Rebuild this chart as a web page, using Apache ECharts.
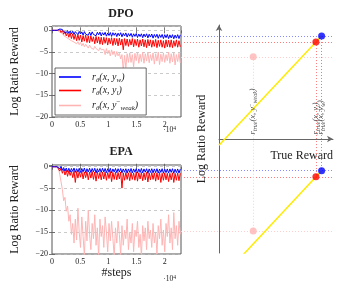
<!DOCTYPE html>
<html><head><meta charset="utf-8">
<script src="https://cdn.jsdelivr.net/npm/echarts@6/dist/echarts.min.js"></script>
<style>html,body{margin:0;padding:0;background:#fff}#c{width:341px;height:284px}</style>
</head><body><div id="c"></div>
<script>
// ---------- data ----------
const STEP = 230;            // sampling interval (training steps)
const X_MAX = 22900;         // right end of the step axis
const xTickLabels = [0, 0.5, 1, 1.5, 2];   // ×10^4
const yTickLabels = [0, -5, -10, -15, -20];

const dpoChosen = [0,0,0,0,0,0.05,0.3,0.5,0.2,-0.3,
0.05,-0.55,-0.05,-0.7,-0.15,-0.8,-0.2,-0.95,-0.3,-0.6,
-1.0,-0.25,-0.85,-0.35,-1.1,-0.3,-0.9,-0.45,-1.15,-0.4,
-1.2,-0.35,-0.95,-0.5,-1.25,-0.45,-1.05,-0.4,-1.3,-0.55,
-1.1,-0.45,-1.35,-0.6,-1.2,-0.5,-1.4,-0.55,-1.15,-0.6,
-1.45,-0.65,-1.25,-0.55,-1.5,-0.7,-1.3,-0.6,-1.55,-0.75,
-1.35,-0.7,-1.6,-0.8,-1.4,-0.75,-1.65,-0.85,-1.45,-0.8,
-1.7,-0.85,-1.5,-0.8,-1.75,-0.9,-1.55,-0.85,-1.8,-0.95,
-1.6,-0.9,-1.85,-1.0,-1.65,-0.95,-1.9,-1.0,-1.7,-0.95,
-1.9,-1.05,-1.75,-1.0,-1.95,-1.1,-1.8,-1.0,-1.9,-1.05];

const dpoRejected = [0,0,0,0,0,-0.1,0.15,-0.5,0.0,-0.9,
-0.3,-1.3,-0.5,-1.6,-0.6,-1.9,-0.8,-2.1,-0.9,-2.4,
-1.0,-2.3,-1.1,-2.7,-1.2,-2.5,-1.1,-2.8,-1.3,-2.9,
-1.3,-2.6,-1.5,-3.1,-1.4,-2.9,-1.5,-3.2,-1.6,-3.3,
-1.6,-3.0,-1.7,-3.4,-1.8,-3.1,-1.7,-3.5,-1.8,-3.3,
-1.9,-3.6,-1.8,-3.4,-2.0,-4.5,-1.9,-3.5,-2.0,-3.7,
-2.1,-3.4,-1.9,-3.8,-2.1,-3.5,-2.0,-3.9,-2.2,-3.6,
-2.0,-3.8,-2.2,-4.0,-2.1,-3.6,-2.2,-3.9,-2.3,-3.7,
-2.1,-4.0,-2.3,-3.7,-2.2,-3.9,-2.4,-4.1,-2.2,-3.8,
-2.3,-3.9,-2.2,-4.0,-2.4,-3.7,-2.2,-3.9,-2.4,-3.8];

const dpoWeak = [0,0,0,0,0,-0.2,-0.4,-0.8,-0.7,-1.2,
-1.1,-1.6,-1.4,-2.0,-1.8,-2.4,-2.1,-2.7,-2.3,-3.1,
-2.6,-3.3,-2.8,-3.6,-3.0,-3.8,-3.2,-3.5,-4.1,-3.4,
-4.0,-3.6,-4.4,-3.7,-4.2,-3.9,-4.7,-4.0,-4.5,-4.1,
-4.4,-5.6,-4.2,-5.4,-4.6,-5.9,-4.5,-5.6,-4.8,-6.1,
-4.9,-5.9,-5.3,-6.6,-5.6,-9.3,-5.8,-8.6,-5.4,-7.4,
-5.2,-7.4,-5.6,-8.4,-5.3,-7.0,-5.0,-7.6,-5.5,-7.2,
-5.1,-7.6,-5.4,-7.1,-5.0,-7.5,-5.6,-7.0,-5.2,-7.8,
-5.4,-7.1,-5.0,-7.9,-5.5,-7.2,-5.2,-7.4,-5.6,-7.0,
-5.0,-7.6,-5.4,-7.3,-5.1,-8.0,-5.6,-7.2,-5.3,-7.5];

const epaChosen = [0,0,0,0,0,-0.1,-0.45,0.1,-0.8,-0.2,
-1.0,-0.3,-1.1,-0.35,-1.2,-0.4,-1.05,-0.3,-1.3,-0.45,
-1.2,-0.35,-1.3,-0.4,-1.15,-0.3,-1.35,-0.45,-1.2,-0.35,
-1.3,-0.4,-1.15,-0.35,-1.4,-0.45,-1.2,-0.4,-1.3,-0.35,
-1.2,-0.4,-1.35,-0.45,-1.25,-0.35,-1.4,-0.5,-1.2,-0.4,
-1.35,-0.45,-1.2,-0.4,-1.4,-0.5,-1.25,-0.45,-1.45,-0.5,
-1.3,-0.4,-1.4,-0.5,-1.25,-0.45,-1.45,-0.5,-1.3,-0.4,
-1.4,-0.5,-1.25,-0.45,-1.5,-0.5,-1.3,-0.45,-1.4,-0.5,
-1.35,-0.45,-1.45,-0.55,-1.3,-0.45,-1.5,-0.55,-1.35,-0.5,
-1.45,-0.5,-1.3,-0.45,-1.5,-0.55,-1.35,-0.5,-1.45,-0.55];

const epaRejected = [0,0,0,0,0,-0.3,-1.0,-0.3,-1.5,-0.6,
-1.9,-0.8,-2.2,-0.9,-2.0,-1.0,-2.5,-1.0,-3.6,-1.1,
-2.6,-1.1,-2.4,-1.0,-2.8,-1.2,-2.5,-1.1,-3.0,-1.2,
-2.6,-1.1,-2.9,-1.2,-3.3,-1.1,-2.7,-1.3,-3.0,-1.2,
-2.8,-1.2,-3.1,-1.3,-2.7,-1.1,-3.4,-1.3,-2.9,-1.2,
-3.0,-1.3,-2.8,-1.2,-4.9,-1.4,-3.1,-1.3,-2.9,-1.4,
-3.2,-1.3,-2.9,-1.4,-3.1,-1.2,-3.3,-1.4,-2.8,-1.3,
-3.2,-1.4,-3.0,-1.3,-3.5,-1.4,-3.0,-1.3,-2.9,-1.4,
-3.3,-1.4,-3.0,-1.3,-3.6,-1.5,-3.1,-1.4,-3.0,-1.5,
-3.4,-1.5,-3.0,-1.4,-3.6,-1.5,-3.1,-1.4,-3.2,-1.5];

const epaWeak = [0,0,0,0,0,-0.5,-1.8,-3.5,-5.2,-7.8,
-7.0,-10.2,-9.0,-12.5,-11.0,-15.5,-13.0,-17.5,-12.0,-16.8,
-9.5,-15.0,-18.5,-11.5,-16.0,-20.5,-12.5,-17.0,-10.0,-15.5,
-19.0,-13.0,-16.5,-11.0,-18.0,-14.0,-20.8,-12.0,-16.0,-13.5,
-18.5,-11.5,-15.0,-19.5,-13.0,-17.0,-12.5,-16.5,-20.5,-14.0,
-17.5,-12.5,-15.5,-20.3,-13.5,-18.0,-14.5,-16.5,-12.0,-19.0,
-15.0,-17.5,-13.0,-19.5,-14.5,-16.0,-12.5,-18.5,-15.5,-20.5,
-13.5,-17.0,-14.0,-19.0,-12.5,-16.5,-14.5,-18.5,-13.0,-17.5,
-15.0,-20.0,-13.5,-16.5,-12.0,-18.0,-14.5,-19.5,-13.0,-16.0,
-11.0,-17.5,-14.0,-19.0,-10.5,-16.5,-13.5,-18.0,-12.5,-15.5];

// converged levels (chosen, rejected, weak) and conceptual true rewards
const dpoEnd = [-1.3, -2.7, -6.1];
const epaEnd = [-0.9, -2.3, -14.7];
const trueReward = [0.9, 0.85, 0.3];

const COLORS = ['#0000ff', '#ff0000', '#ffb4b4'];
const DOT_LINE = ['#8a8aff', '#ff7a7a', '#ffcfcf'];
const FONT = 'Liberation Serif';
const TXT = '#222';

// ---------- helpers ----------
const steps = dpoChosen.map((_, i) => i * STEP);
const pairs = arr => arr.map((v, i) => [steps[i], v]);
const minus = s => String(s).replace('-', '\u2212');

const rich = (m, s) => ({
  m: { fontFamily: FONT, fontStyle: 'italic', fontSize: m, color: TXT, lineHeight: m + 3, verticalAlign: 'middle' },
  s: { fontFamily: FONT, fontStyle: 'italic', fontSize: s, color: TXT, lineHeight: m + 3, verticalAlign: 'bottom' },
  sup: { fontFamily: FONT, fontSize: s, color: TXT, lineHeight: m + 3, verticalAlign: 'top' }
});
const legendText = {
  chosen: '{m|r}{s|\u03b8}{m|(x, y}{s|w}{m|)}',
  rejected: '{m|r}{s|\u03b8}{m|(x, y}{s|l}{m|)}',
  weak: '{m|r}{s|\u03b8}{m|(x, y}{sup|\u2212}{s|weak}{m|)}'
};
const diagText = [
  '{m|r}{s|true}{m|(x, y}{s|w}{m|)}',
  '{m|r}{s|true}{m|(x, y}{s|l}{m|)}',
  '{m|r}{s|true}{m|(x, y}{sup|\u2212}{s|weak}{m|)}'
];

const tickStyle = { inside: true, length: 3, lineStyle: { color: '#555', width: 0.8 } };
const lblStyle = { fontFamily: FONT, fontSize: 8, color: TXT };

function stepAxis(grid) {
  return {
    type: 'value', gridIndex: grid, min: 0, max: X_MAX, interval: 5000,
    axisLine: { show: false }, axisTick: tickStyle, splitLine: { show: false },
    axisLabel: Object.assign({ margin: 4, showMaxLabel: false,
      formatter: v => xTickLabels.includes(v / 1e4) ? String(v / 1e4) : '' }, lblStyle)
  };
}
function mirrorX(grid) {
  return { type: 'value', gridIndex: grid, position: 'top', min: 0, max: X_MAX, interval: 5000,
    axisLine: { show: false }, axisTick: tickStyle, axisLabel: { show: false }, splitLine: { show: false } };
}
function ratioAxis(grid, max) {
  return {
    type: 'value', gridIndex: grid, min: -20, max: max, interval: 5,
    axisLine: { show: false }, axisTick: tickStyle,
    axisLabel: Object.assign({ margin: 4, showMaxLabel: false,
      formatter: v => yTickLabels.includes(v) ? minus(v) : '' }, lblStyle),
    splitLine: { show: true, lineStyle: { color: '#bdbdbd', type: [3, 3], width: 0.8 } },
    name: 'Log Ratio Reward', nameLocation: 'middle', nameGap: 31,
    nameTextStyle: { fontFamily: FONT, fontSize: 12, color: TXT }
  };
}
function mirrorY(grid, max) {
  return { type: 'value', gridIndex: grid, position: 'right', min: -20, max: max, interval: 5,
    axisLine: { show: false }, axisTick: tickStyle, axisLabel: { show: false }, splitLine: { show: false } };
}
function curve(name, data, color, xi, yi) {
  return { type: 'line', name, data: pairs(data), xAxisIndex: xi, yAxisIndex: yi,
    symbol: 'none', showSymbol: false, color, lineStyle: { color, width: 1 }, clip: true, silent: true };
}

const gridBox = { show: true, borderColor: '#555', borderWidth: 1, backgroundColor: 'transparent' };
const diagAxisLine = { show: true, onZero: true, symbol: ['none', 'arrow'], symbolSize: [5, 6],
  lineStyle: { color: '#666', width: 1 } };

const option = {
  animation: false,
  title: [
    { text: 'DPO', left: 116, top: 3, textAlign: 'center',
      textStyle: { fontFamily: FONT, fontSize: 12, fontWeight: 'bold', color: TXT } },
    { text: 'EPA', left: 116, top: 141, textAlign: 'center',
      textStyle: { fontFamily: FONT, fontSize: 12, fontWeight: 'bold', color: TXT } }
  ],
  grid: [
    Object.assign({ left: 52, top: 26, width: 129, height: 91 }, gridBox),
    Object.assign({ left: 52, top: 165, width: 129, height: 89 }, gridBox),
    { left: 219, top: 25, width: 114, height: 228, show: false }
  ],
  legend: {
    data: ['chosen', 'rejected', 'weak'], orient: 'vertical', left: 55, top: 68,
    icon: 'rect', itemWidth: 22, itemHeight: 1.6, itemGap: 2, padding: [4, 8, 3, 4],
    borderColor: '#444', borderWidth: 0.8, borderRadius: 0, backgroundColor: '#fff',
    formatter: n => legendText[n],
    textStyle: { padding: [0, 0, 0, 6], rich: rich(10, 7) }
  },
  xAxis: [
    stepAxis(0),
    stepAxis(1),
    { type: 'value', gridIndex: 2, min: 0, max: 1, axisLine: diagAxisLine,
      axisTick: { show: false }, axisLabel: { show: false }, splitLine: { show: false },
      name: 'True Reward', nameLocation: 'end', nameGap: 0,
      nameTextStyle: { align: 'right', verticalAlign: 'top', padding: [11, 0, 0, 0],
        fontFamily: FONT, fontSize: 12, color: TXT } },
    mirrorX(0), mirrorX(1),
    // invisible helper axis carrying the "#steps" label
    { type: 'value', gridIndex: 1, min: 0, max: X_MAX, position: 'bottom', offset: 0,
      axisLine: { show: false }, axisTick: { show: false }, axisLabel: { show: false }, splitLine: { show: false },
      name: '#steps', nameLocation: 'middle', nameGap: 13,
      nameTextStyle: { fontFamily: FONT, fontSize: 12, color: TXT } }
  ],
  yAxis: [
    ratioAxis(0, 1), ratioAxis(1, 0.4),
    { type: 'value', gridIndex: 2, min: -114, max: 114, axisLine: diagAxisLine,
      axisTick: { show: false }, axisLabel: { show: false }, splitLine: { show: false },
      name: 'Log Ratio Reward', nameLocation: 'middle', nameGap: 11,
      nameTextStyle: { fontFamily: FONT, fontSize: 12, color: TXT } },
    mirrorY(0, 1), mirrorY(1, 0.4)
  ],
  series: [
    curve('weak', dpoWeak, COLORS[2], 0, 0),
    curve('rejected', dpoRejected, COLORS[1], 0, 0),
    curve('chosen', dpoChosen, COLORS[0], 0, 0),
    curve('epa-weak', epaWeak, COLORS[2], 1, 1),
    curve('epa-rejected', epaRejected, COLORS[1], 1, 1),
    curve('epa-chosen', epaChosen, COLORS[0], 1, 1)
  ]
};

const chart = echarts.init(document.getElementById('c'), null, { renderer: 'canvas' });
chart.setOption(option);

// ---------- right-hand diagram, positioned from the plotted scales ----------
const toDiagY = (v, yi) => chart.convertFromPixel({ yAxisIndex: 2 }, chart.convertToPixel({ yAxisIndex: yi }, v));
const upY = dpoEnd.map(v => toDiagY(v, 0));
const loY = epaEnd.map(v => toDiagY(v, 1));
const plotRightPx = chart.convertToPixel({ xAxisIndex: 0 }, X_MAX);
const leftX = chart.convertFromPixel({ xAxisIndex: 2 }, plotRightPx);
const rightX = 1;

const dotted = [];
[upY, loY].forEach(ys => ys.forEach((y, i) => {
  dotted.push({ coords: [[leftX, y], [rightX, y]], lineStyle: { color: DOT_LINE[i] } });
}));
trueReward.forEach((x, i) => {
  dotted.push({ coords: [[x, upY[i]], [x, loY[i]]], lineStyle: { color: DOT_LINE[i] } });
});

function fitLine(ys) {
  const k = (ys[0] - ys[1]) / (trueReward[0] - trueReward[1]);
  return [[0, ys[0] - k * trueReward[0]], [trueReward[0], ys[0]]];
}

option.series.push(
  { type: 'lines', coordinateSystem: 'cartesian2d', xAxisIndex: 2, yAxisIndex: 2, clip: false,
    silent: true, lineStyle: { type: [1, 2], width: 1, opacity: 1 }, data: dotted, z: 3 },
  { type: 'line', xAxisIndex: 2, yAxisIndex: 2, data: fitLine(upY), symbol: 'none', clip: true,
    lineStyle: { color: '#ffeb00', width: 1.5 }, silent: true, z: 4 },
  { type: 'line', xAxisIndex: 2, yAxisIndex: 2, data: fitLine(loY), symbol: 'none', clip: true,
    lineStyle: { color: '#ffeb00', width: 1.5 }, silent: true, z: 4 },
  { type: 'scatter', xAxisIndex: 2, yAxisIndex: 2, symbolSize: 7, silent: true, z: 6,
    data: trueReward.flatMap((x, i) => [
      { value: [x, upY[i]], itemStyle: { color: COLORS[i] } },
      { value: [x, loY[i]], itemStyle: { color: COLORS[i] } }
    ]) },
  { type: 'scatter', xAxisIndex: 2, yAxisIndex: 2, symbolSize: 1, silent: true, z: 7,
    itemStyle: { color: 'transparent' },
    label: { show: true, position: [0, 0], rotate: 90, align: 'left', verticalAlign: 'middle',
      padding: [0, 0, 0, 4], rich: rich(8.5, 6) },
    data: trueReward.map((x, i) => ({ value: [x, 0], label: { formatter: diagText[i] } })) }
);

// "·10^4" scale markers below each step axis
const sciMark = (topPx) => ({
  type: 'text', x: plotRightPx - 5, y: topPx, silent: true,
  style: { text: '\u00b710{p|4}', align: 'right', verticalAlign: 'top',
    fontFamily: FONT, fontSize: 7.5, fill: TXT,
    rich: { p: { fontFamily: FONT, fontSize: 5.5, verticalAlign: 'top', fill: TXT } } }
});
option.graphic = [
  sciMark(chart.convertToPixel({ yAxisIndex: 0 }, -20) + 9),
  sciMark(chart.convertToPixel({ yAxisIndex: 1 }, -20) + 21)
];
chart.setOption(option, true);
</script></body></html>
